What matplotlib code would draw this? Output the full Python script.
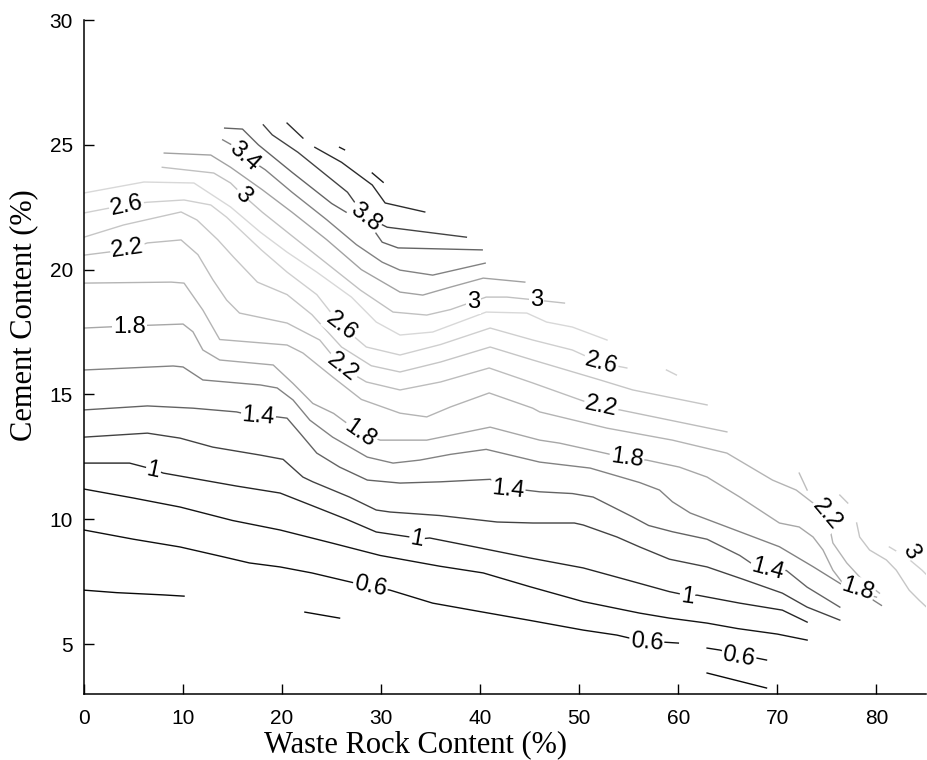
import matplotlib
matplotlib.use("Agg")
import matplotlib.pyplot as plt
from matplotlib.colors import Normalize

# contour paths: level -> list of (x, y) segments
c04a_x = [0, 3.3, 8, 10.1]
c04a_y = [7.16, 7.06, 6.97, 6.92]
c04b_x = [22.3, 25.8]
c04b_y = [6.28, 6.04]
c04c_x = [62.9, 68.9]
c04c_y = [3.84, 3.24]

c06a_x = [0, 5, 9.7, 14, 16.7, 19.8, 23, 26.1, 28.9, 30.9, 35.2, 40, 45, 50.4, 53.8, 56.8, 58.4, 60.0]
c06a_y = [9.57, 9.2, 8.89, 8.5, 8.25, 8.09, 7.85, 7.56, 7.3, 7.16, 6.64, 6.3, 5.95, 5.56, 5.36, 5.08, 5.08, 5.04]
c06b_x = [62.9, 64.2, 66.1, 67.9, 68.9]
c06b_y = [4.84, 4.76, 4.55, 4.44, 4.36]

c08_x = [0, 5, 9.7, 15, 19.8, 25, 29.9, 35.9, 40.3, 45, 50.4, 56.1, 59.1, 62.9, 66, 70, 73.0]
c08_y = [11.21, 10.85, 10.49, 9.95, 9.57, 9.05, 8.55, 8.12, 7.85, 7.3, 6.7, 6.24, 6.04, 5.84, 5.62, 5.4, 5.16]

c10_x = [0, 4.6, 7.0, 8.0, 15.4, 19.8, 23, 26.5, 29.5, 32.9, 33.6, 34.9, 40, 45, 50.4, 55,
         59.1, 60.9, 61.9, 66.2, 70.5, 73.0]
c10_y = [12.25, 12.25, 12.0, 11.85, 11.33, 11.05, 10.55, 10.0, 9.49, 9.29, 9.2, 9.25, 8.85, 8.45, 8.05, 7.55,
         7.1, 6.95, 6.96, 6.64, 6.36, 5.88]

c12_x = [0, 6.4, 9.7, 13.0, 17.8, 20.1, 22.1, 23.1, 26.8, 29.5, 30.9, 35.9, 41.7, 45.3, 49.5, 50.4,
         53.8, 56.1, 59.1, 62.9, 66.5, 70.5, 73.0, 76.3]
c12_y = [13.29, 13.45, 13.25, 12.89, 12.57, 12.4, 11.69, 11.5, 10.89, 10.37, 10.29, 10.15, 9.89, 9.85, 9.85, 9.77,
         9.29, 8.89, 8.4, 8.09, 7.6, 7.04, 6.48, 5.96]

c14_x = [0, 6.4, 11, 15.4, 17.6, 19.5, 20.5, 21.8, 23.5, 25.8, 28.6, 31.9, 36, 41.0, 42.8, 46, 49.3,
         51.4, 55.4, 57, 59.4, 62.9, 66.2, 67.5, 69.0, 70.9, 73.0, 76.3]
c14_y = [14.38, 14.54, 14.45, 14.3, 14.1, 14.1, 14.05, 13.45, 12.65, 12.09, 11.57, 11.45, 11.5, 11.6, 11.25, 11.1, 11.03,
         10.89, 10.09, 9.75, 9.5, 9.2, 8.55, 8.2, 7.96, 7.95, 7.28, 6.48]

c16_x = [0, 9.0, 10.0, 12.0, 17.8, 19.5, 21.1, 22.8, 25.1, 28.6, 31.2, 33.9, 37, 40.6, 46, 51.1, 56.1,
         58.1, 59.4, 61.2, 66.2, 70.2, 73.6, 76.6, 78.1, 80.5]
c16_y = [15.98, 16.14, 16.1, 15.58, 15.38, 15.26, 14.78, 13.97, 13.29, 12.49, 12.25, 12.37, 12.6, 12.8, 12.29, 12.05, 11.47,
         11.17, 10.7, 10.25, 9.5, 8.9, 8.1, 7.36, 7.16, 6.55]

c18_x = [0, 5, 10.0, 11.0, 12.0, 13.7, 19.1, 21.1, 23.1, 25.2, 27.9, 29.9, 34.6, 41.0, 46, 48.0, 52, 54.8,
         56.8, 60.1, 62.9, 66.2, 70.2, 72.2, 73.6, 74.6, 75.6, 76.6, 78.6, 80.0]
c18_y = [17.66, 17.75, 17.82, 17.51, 16.78, 16.38, 16.18, 15.44, 14.64, 14.24, 13.45, 13.17, 13.17, 13.69, 13.17, 13.05, 12.7, 12.45,
         12.37, 12.09, 11.69, 10.89, 9.85, 9.69, 9.29, 8.77, 7.96, 7.44, 7.04, 6.88]

c20_x = [0, 8.8, 10.1, 12.0, 13.7, 20.5, 22.1, 25.1, 28, 31.9, 34.6, 37, 40.9, 45.3, 46, 52.8, 59.4,
         64.9, 69.5, 71.9, 73.6, 75.0, 75.6, 77.0, 78.6, 80.3]
c20_y = [19.46, 19.5, 19.46, 18.38, 17.2, 16.98, 16.66, 15.7, 14.8, 14.25, 14.1, 14.5, 15.06, 14.45, 14.3, 13.65, 13.17,
         12.65, 11.57, 11.17, 10.65, 10.2, 9.05, 8.25, 7.56, 7.04]

c22_x = [0, 4.4, 6.4, 9.8, 11.5, 13, 14.4, 15.7, 20.5, 23.8, 26.1, 28.5, 31.9, 36, 40.9, 45.3, 50.1,
         52.2, 54.1, 60.0, 64.9]
c22_y = [20.58, 20.8, 21.07, 21.19, 20.6, 19.6, 18.78, 18.26, 17.86, 17.18, 16.06, 15.5, 15.18, 15.5, 16.06, 15.46, 14.78,
         14.5, 14.38, 13.9, 13.5]
c22b_x = [72.2, 73.0]
c22b_y = [11.85, 11.17]

c24_x = [0, 4.0, 9.8, 11.4, 13.5, 15.1, 17.5, 20.5, 23, 26, 29, 31.9, 36, 41.0, 45.3, 52.1, 55.4, 62.9]
c24_y = [21.3, 21.79, 22.31, 21.99, 21.2, 20.5, 19.5, 19.0, 18.2, 16.9, 16.15, 15.9, 16.3, 16.9, 16.38, 15.58, 15.18, 14.58]
c24b_x = [76.3, 77.1]
c24b_y = [10.97, 10.65]
c24c_x = [78.0, 78.3, 79.3, 81.0, 82.0, 83.3, 84.3, 85.0]
c24c_y = [9.85, 9.29, 8.77, 8.37, 7.96, 7.16, 6.76, 6.5]

c26_x = [0, 4.3, 6.4, 10.1, 12.8, 14.4, 17.9, 20.5, 23.5, 26.0, 28.5, 31.9, 36, 41.0, 45.3, 49.3, 52.2, 54.8]
c26_y = [22.27, 22.6, 22.7, 22.79, 22.59, 22.1, 20.79, 19.9, 19.0, 17.74, 16.9, 16.58, 17.0, 17.66, 17.18, 16.78, 16.26, 16.06]
c26b_x = [58.8, 59.8]
c26b_y = [15.98, 15.78]
c26c_x = [81.3, 83.0, 84.6, 85.0]
c26c_y = [8.89, 8.49, 7.96, 7.8]

c28_x = [0, 6.05, 11.1, 14.8, 17.8, 20.5, 23.5, 27, 29.5, 31.9, 35.2, 40.6, 44.7, 46.7, 49.3, 52.8]
c28_y = [23.07, 23.51, 23.47, 22.51, 21.5, 20.7, 19.9, 18.9, 17.9, 17.38, 17.5, 18.3, 18.26, 17.9, 17.7, 17.18]

c30_x = [7.9, 13.1, 14.8, 16.0, 18, 21, 24.5, 27.9, 31.2, 34.6, 37, 39.3, 40.6, 42.7, 45.7, 48.5]
c30_y = [24.1, 23.87, 23.47, 23.0, 22.3, 21.35, 20.25, 19.18, 18.3, 18.18, 18.4, 18.72, 18.9, 18.9, 18.78, 18.66]

c32_x = [8.1, 12.8, 14.8, 18, 21, 24.5, 28, 31.9, 34.2, 37, 40.3, 44.5]
c32_y = [24.67, 24.59, 24.1, 23.2, 22.3, 21.2, 20.0, 19.1, 18.98, 19.3, 19.66, 19.5]

c34_x = [14.0, 14.9, 16.2, 18.3, 21, 24.5, 27.5, 30.1, 31.9, 35.2, 40.5]
c34_y = [25.2, 25.0, 24.55, 24.0, 23.1, 22.0, 21.0, 20.3, 19.98, 19.78, 20.26]

c36_x = [14.2, 16.0, 17.6, 21, 25, 29.1, 30.1, 31.7, 40.2]
c36_y = [25.67, 25.63, 25.0, 23.9, 22.65, 21.67, 21.1, 20.87, 20.79]

c38_x = [18.1, 19.0, 21.6, 26.6, 28.4, 30.1, 30.6, 35.2, 38.6]
c38_y = [25.8, 25.4, 24.7, 23.1, 22.1, 21.8, 21.7, 21.47, 21.3]

c40a_x = [20.5, 22.1]
c40a_y = [25.87, 25.27]
c40b_x = [23.3, 26.0, 29.1, 30.4, 34.4]
c40b_y = [24.9, 24.3, 23.39, 22.67, 22.31]

c42a_x = [25.8, 26.3]
c42a_y = [24.9, 24.8]
c42b_x = [29.1, 30.2]
c42b_y = [23.87, 23.5]

contours = [
    (0.4, c04a_x, c04a_y), (0.4, c04b_x, c04b_y), (0.4, c04c_x, c04c_y),
    (0.6, c06a_x, c06a_y), (0.6, c06b_x, c06b_y),
    (0.8, c08_x, c08_y), (1.0, c10_x, c10_y), (1.2, c12_x, c12_y),
    (1.4, c14_x, c14_y), (1.6, c16_x, c16_y), (1.8, c18_x, c18_y),
    (2.0, c20_x, c20_y), (2.2, c22_x, c22_y), (2.2, c22b_x, c22b_y),
    (2.4, c24_x, c24_y), (2.4, c24b_x, c24b_y), (2.4, c24c_x, c24c_y),
    (2.6, c26_x, c26_y), (2.6, c26b_x, c26b_y), (2.6, c26c_x, c26c_y),
    (2.8, c28_x, c28_y), (3.0, c30_x, c30_y), (3.2, c32_x, c32_y),
    (3.4, c34_x, c34_y), (3.6, c36_x, c36_y), (3.8, c38_x, c38_y),
    (4.0, c40a_x, c40a_y), (4.0, c40b_x, c40b_y),
    (4.2, c42a_x, c42a_y), (4.2, c42b_x, c42b_y),
]

# inline labels: text, x, y, screen angle
label_text = ["2.6", "2.2", "1.8", "1", "1.4", "3.4", "3", "3.8", "2.6", "2.2", "1.8", "3", "3",
              "1", "1.4", "0.6", "2.6", "2.2", "1.8", "0.6", "1", "0.6", "1.4", "2.2", "1.8", "3"]
label_x = [4.3, 4.4, 4.6, 7.0, 17.6, 16.2, 16.0, 28.4, 26.0, 26.1, 27.9, 39.3, 45.7,
           33.6, 42.8, 28.9, 52.2, 52.2, 54.8, 56.8, 60.9, 66.1, 69.0, 75.0, 78.1, 83.4]
label_y = [22.55, 20.82, 17.7, 11.95, 14.1, 24.55, 22.98, 22.1, 17.74, 16.1, 13.45, 18.7, 18.78,
           9.2, 11.2, 7.3, 16.26, 14.5, 12.45, 5.08, 6.9, 4.5, 8.0, 10.2, 7.2, 8.7]
label_rot = [12, 8, 0, -12, -5, -42, -45, -38, -38, -38, -35, 0, 0,
             -10, -6, -12, -15, -12, -8, -5, -8, -10, -15, -50, -18, -60]

LO, HI = 0.4, 4.2
norm = Normalize(LO, HI)


def level_gray(level):
    # jet colormap seen in greyscale, as the printed figure shows it
    r, g, b, _ = plt.cm.jet(norm(level))
    lum = (0.299 * r + 0.587 * g + 0.114 * b) ** 1.15
    return (lum, lum, lum)


fig = plt.figure(figsize=(9.27, 7.6), dpi=100)
ax = fig.add_axes([84 / 927, 66 / 760, 842 / 927, 674 / 760])

for level, xs, ys in contours:
    ax.plot(xs, ys, color=level_gray(level), lw=1.0, solid_joinstyle="round", zorder=2)

for s, x, y, r in zip(label_text, label_x, label_y, label_rot):
    ax.text(x, y, s, rotation=r, rotation_mode="anchor", ha="center", va="center",
            fontsize=17, family="Liberation Sans", color="black", zorder=4,
            bbox=dict(boxstyle="square,pad=0.05", fc="white", ec="none"))

ax.set_xlim(0, 85)
ax.set_ylim(3, 30)
ax.set_xticks(range(0, 81, 10))
ax.set_yticks(range(5, 31, 5))
ax.spines["top"].set_visible(False)
ax.spines["right"].set_visible(False)
for sp in ("left", "bottom"):
    ax.spines[sp].set_linewidth(1.1)
ax.tick_params(direction="in", length=7, width=1.0, labelsize=15)
ax.tick_params(axis="x", pad=11)
ax.tick_params(axis="y", pad=8)
for lab in ax.get_xticklabels() + ax.get_yticklabels():
    lab.set_family("Liberation Sans")

fig.text(415 / 927, 1 - 745 / 760, "Waste Rock Content (%)", ha="center", va="center",
         fontsize=22, family="Liberation Serif")
fig.text(24 / 927, 1 - 315 / 760, "Cement Content (%)", ha="center", va="center",
         rotation=90, fontsize=22, family="Liberation Serif")

fig.savefig("out.png", dpi=100)
